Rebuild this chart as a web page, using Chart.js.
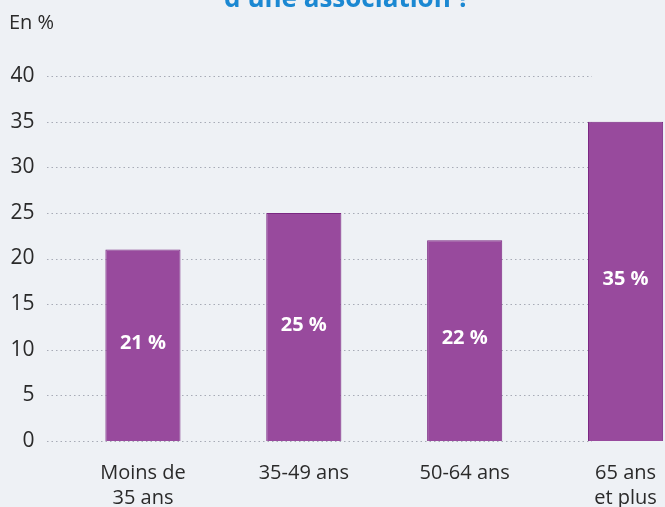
<!DOCTYPE html>
<html>
<head>
<meta charset="utf-8">
<script src="https://cdn.jsdelivr.net/npm/chart.js@4"></script>
<style>
  html, body { margin: 0; padding: 0; background: #eef1f5; overflow: hidden; }
  #wrap { width: 706px; height: 507px; position: relative; }
</style>
</head>
<body>
<div id="wrap"><canvas id="c" width="706" height="507"></canvas></div>
<script>
const categories = [["Moins de", "35 ans"], "35-49 ans", "50-64 ans", ["65 ans", "et plus"]];
const values = [21, 25, 22, 35];
const valueLabels = ["21 %", "25 %", "22 %", "35 %"];
const yTicks = [0, 5, 10, 15, 20, 25, 30, 35, 40];
const titleText = "d'une association ?";
const unitText = "En %";

const FONT = "'Open Sans', 'DejaVu Sans', sans-serif";

const decor = {
  id: 'decor',
  beforeDraw(chart) {
    const ctx = chart.ctx;
    ctx.save();
    ctx.fillStyle = '#eef1f5';
    ctx.fillRect(0, 0, chart.width, chart.height);
    ctx.fillStyle = '#1b88d2';
    ctx.font = "bold 26px " + FONT;
    ctx.textAlign = 'center';
    ctx.textBaseline = 'alphabetic';
    ctx.fillText(titleText, 347, 7);
    ctx.fillStyle = '#2a2a2a';
    ctx.font = "20px " + FONT;
    ctx.textAlign = 'left';
    ctx.textBaseline = 'middle';
    ctx.fillText(unitText, 9, 23);
    ctx.restore();
  },
  beforeDatasetsDraw(chart) {
    const ctx = chart.ctx;
    const y = chart.scales.y;
    ctx.save();
    ctx.strokeStyle = 'rgba(120,125,140,0.6)';
    ctx.lineWidth = 1;
    ctx.setLineDash([1.5, 3]);
    yTicks.forEach(v => {
      const py = Math.round(y.getPixelForValue(v)) + 0.5;
      ctx.beginPath();
      ctx.moveTo(47, py);
      ctx.lineTo(592, py);
      ctx.stroke();
    });
    ctx.restore();
  },
  afterDatasetsDraw(chart) {
    const ctx = chart.ctx;
    const meta = chart.getDatasetMeta(0);
    ctx.save();
    ctx.fillStyle = '#ffffff';
    ctx.font = "bold 20px " + FONT;
    ctx.textAlign = 'center';
    ctx.textBaseline = 'middle';
    meta.data.forEach((bar, i) => {
      ctx.fillText(valueLabels[i], bar.x, (bar.y + bar.base) / 2 - 2);
    });
    ctx.restore();
  }
};

new Chart(document.getElementById('c'), {
  type: 'bar',
  data: {
    labels: categories,
    datasets: [{
      data: values,
      backgroundColor: '#984a9d',
      borderColor: '#7a2882',
      borderWidth: 1,
      barPercentage: 0.467,
      categoryPercentage: 1.0
    }]
  },
  options: {
    responsive: false,
    animation: false,
    layout: { padding: { top: 76, left: 0, right: 0, bottom: 0 } },
    plugins: { legend: { display: false }, tooltip: { enabled: false }, title: { display: false } },
    scales: {
      x: {
        grid: { display: false },
        border: { display: false },
        ticks: {
          color: '#2a2a2a',
          font: { family: FONT, size: 20, lineHeight: 1.25 },
          padding: 12,
          maxRotation: 0,
          autoSkip: false
        },
        afterFit(scale) { scale.height = 66; }
      },
      y: {
        min: 0, max: 40,
        grid: { display: false },
        border: { display: false },
        ticks: {
          stepSize: 5,
          color: '#2a2a2a',
          font: { family: FONT, size: 21 },
          padding: 20
        },
        afterFit(scale) { scale.width = 62.5; }
      }
    }
  },
  plugins: [decor]
});
</script>
</body>
</html>
